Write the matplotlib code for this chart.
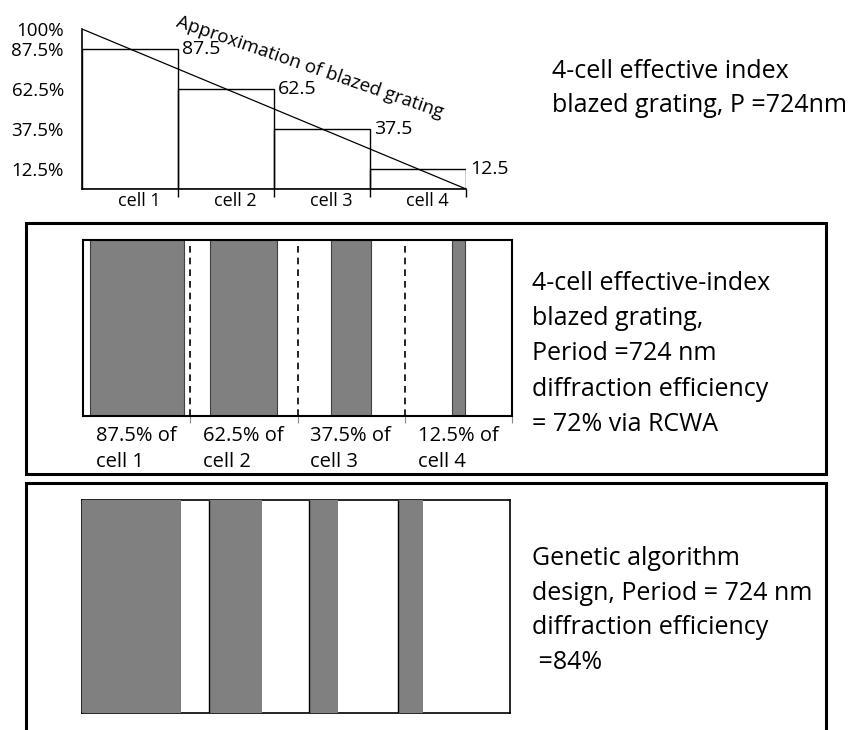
import matplotlib
matplotlib.use("Agg")
import matplotlib.pyplot as plt
from matplotlib.patches import Rectangle

plt.rcParams['font.family'] = ['Open Sans', 'DejaVu Sans']

# --- Data ---
cell_names = ['cell 1', 'cell 2', 'cell 3', 'cell 4']
fill_pct = [87.5, 62.5, 37.5, 12.5]          # fill factor of each cell
bar_labels = ['87.5', '62.5', '37.5', '12.5']
ytick_vals = [12.5, 37.5, 62.5, 87.5, 100]
ytick_labels = ['12.5%', '37.5%', '62.5%', '87.5%', '100%']
cell_captions = ['87.5% of\ncell 1', '62.5% of\ncell 2',
                 '37.5% of\ncell 3', '12.5% of\ncell 4']

# genetic algorithm design (nm, over one period)
period_nm = 724
ga_start_nm = [0, 215, 384, 535]
ga_width_nm = [167, 90, 49, 42]

top_text = '4-cell effective index\nblazed grating, P =724nm'
mid_text = ('4-cell effective-index\nblazed grating,\nPeriod =724 nm\n'
            'diffraction efficiency\n= 72% via RCWA')
bot_text = 'Genetic algorithm\ndesign, Period = 724 nm\ndiffraction efficiency\n =84%'

W, H = 859, 730
fig = plt.figure(figsize=(W / 100, H / 100), dpi=100)


def px_axes(x0, y0, x1, y1):
    # axes placed by pixel box (top-left origin)
    return fig.add_axes([x0 / W, 1 - y1 / H, (x1 - x0) / W, (y1 - y0) / H])


cells = list(range(len(fill_pct)))
centers = [i + 0.5 for i in cells]
edges = [i + 1 for i in cells]

# --- 1. Staircase approximation ---
ax1 = px_axes(82, 29, 466, 189)
ax1.bar(centers, fill_pct, width=1, fill=False, edgecolor='black', lw=1)
ax1.plot([0, len(cells)], [100, 0], color='black', lw=0.9)
ax1.set_xlim(0, len(cells))
ax1.set_ylim(0, 100)
ax1.spines[['top', 'right']].set_visible(False)
for s in ['left', 'bottom']:
    ax1.spines[s].set_linewidth(1.2)
ax1.set_yticks(ytick_vals, ytick_labels, fontsize=13.5)
ax1.tick_params(axis='y', length=0, pad=13)
ax1.set_xticks(edges, [''] * len(edges))
ax1.set_xticks([c + 0.1 for c in centers], cell_names, minor=True, fontsize=13)
ax1.tick_params(axis='x', which='major', length=6, direction='out', width=1)
ax1.tick_params(axis='x', which='minor', length=0, pad=2)
for e, h, lab in zip(edges, fill_pct, bar_labels):
    ax1.annotate(lab, (e, h), xytext=(3, 0), textcoords='offset points',
                 va='center', ha='left', fontsize=14)
ax1.text(2.375, 76, 'Approximation of blazed grating', rotation=-19,
         rotation_mode='anchor', ha='center', va='center', fontsize=13.5,
         clip_on=False)

# --- 2. Effective-index grating ---
ax2 = px_axes(83, 240, 512, 416)
ax2.bar(centers, 1, width=[p / 100 for p in fill_pct], color='#808080',
        edgecolor='#404040', lw=0.8)
ax2.vlines(edges[:-1], 0, 1, colors='black', linestyles=(0, (4, 3)), lw=1.2)
ax2.set_xlim(0, len(cells))
ax2.set_ylim(0, 1)
ax2.set_yticks([])
ax2.set_xticks(edges, [''] * len(edges))
ax2.tick_params(axis='x', length=5, color='#888888', direction='out')
for s in ax2.spines.values():
    s.set_linewidth(1.5)
for i, cap in zip(cells, cell_captions):
    ax2.text(i + 0.12, -0.055, cap, va='top', ha='left', fontsize=14.5,
             linespacing=1.45)

# --- 3. Genetic algorithm design ---
ax3 = px_axes(82, 500, 510, 713)
ax3.bar(ga_start_nm, 1, width=ga_width_nm, align='edge', color='#808080',
        zorder=3)
ax3.vlines(ga_start_nm[1:], 0, 1, colors='black', lw=1, zorder=4)
ax3.set_xlim(0, period_nm)
ax3.set_ylim(0, 1)
ax3.set_xticks([])
ax3.set_yticks([])
for s in ax3.spines.values():
    s.set_linewidth(1.2)

# --- Panel frames ---
fig.add_artist(Rectangle((26 / W, 1 - 474 / H), 800 / W, 251 / H,
                         transform=fig.transFigure, fill=False, lw=2.2,
                         ec='black'))
fig.add_artist(Rectangle((26 / W, -0.05), 800 / W, 1 - 483 / H + 0.05,
                         transform=fig.transFigure, fill=False, lw=2.2,
                         ec='black'))

# --- Descriptions ---
fig.text(552 / W, 1 - 88.5 / H, top_text, fontsize=18, va='center',
         linespacing=1.5)
fig.text(532 / W, 1 - 354 / H, mid_text, fontsize=18, va='center',
         linespacing=1.53)
fig.text(532 / W, 1 - 610.5 / H, bot_text, fontsize=18, va='center',
         linespacing=1.5)

fig.savefig('out.png', dpi=100)
